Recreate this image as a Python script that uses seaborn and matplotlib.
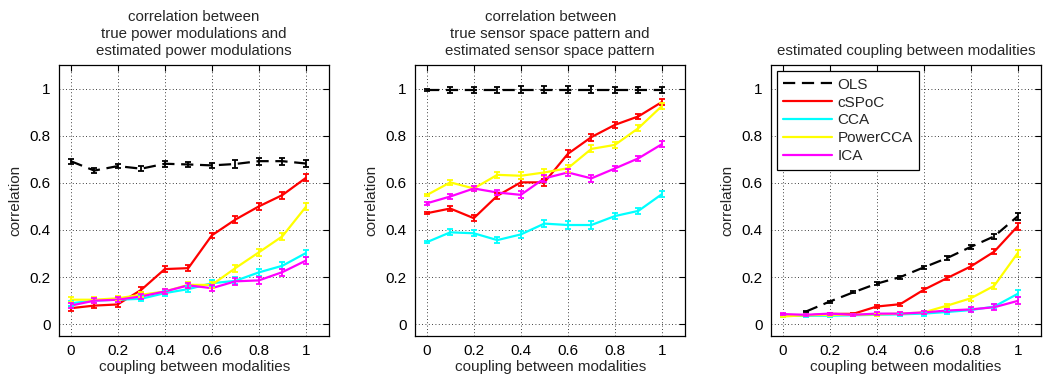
import numpy as np
import pandas as pd
import matplotlib
matplotlib.use('Agg')
import matplotlib.pyplot as plt
import seaborn as sns

# coupling strengths (x axis)
coupling = [0.0, 0.1, 0.2, 0.3, 0.4, 0.5, 0.6, 0.7, 0.8, 0.9, 1.0]
methods = ['OLS', 'cSPoC', 'CCA', 'PowerCCA', 'ICA']

# panel 1: correlation of power modulations
p1_ols = [0.692, 0.652, 0.671, 0.660, 0.681, 0.678, 0.674, 0.680, 0.692, 0.692, 0.682]
p1_cspoc = [0.068, 0.079, 0.084, 0.146, 0.234, 0.238, 0.377, 0.444, 0.500, 0.548, 0.621]
p1_cca = [0.089, 0.100, 0.104, 0.108, 0.132, 0.149, 0.174, 0.184, 0.220, 0.248, 0.302]
p1_powercca = [0.104, 0.104, 0.110, 0.125, 0.139, 0.167, 0.167, 0.238, 0.305, 0.373, 0.498]
p1_ica = [0.079, 0.100, 0.104, 0.118, 0.139, 0.165, 0.153, 0.182, 0.186, 0.221, 0.270]

# panel 2: correlation of sensor space patterns
p2_ols = [0.995, 0.995, 0.995, 0.995, 0.995, 0.995, 0.995, 0.995, 0.995, 0.995, 0.995]
p2_cspoc = [0.471, 0.491, 0.450, 0.545, 0.602, 0.602, 0.723, 0.794, 0.846, 0.882, 0.943]
p2_cca = [0.348, 0.390, 0.386, 0.357, 0.381, 0.427, 0.421, 0.421, 0.459, 0.481, 0.552]
p2_powercca = [0.548, 0.602, 0.576, 0.634, 0.630, 0.644, 0.662, 0.744, 0.761, 0.832, 0.926]
p2_ica = [0.513, 0.542, 0.576, 0.559, 0.549, 0.619, 0.644, 0.619, 0.661, 0.704, 0.764]

# panel 3: estimated coupling
p3_ols = [np.nan, 0.054, 0.096, 0.135, 0.172, 0.200, 0.241, 0.281, 0.328, 0.373, 0.458]
p3_cspoc = [0.040, 0.037, 0.044, 0.044, 0.075, 0.085, 0.146, 0.196, 0.245, 0.308, 0.416]
p3_cca = [0.035, 0.036, 0.036, 0.038, 0.040, 0.042, 0.045, 0.052, 0.060, 0.075, 0.129]
p3_powercca = [0.033, 0.038, 0.040, 0.040, 0.042, 0.045, 0.050, 0.079, 0.110, 0.163, 0.302]
p3_ica = [0.043, 0.040, 0.045, 0.040, 0.045, 0.045, 0.050, 0.058, 0.063, 0.072, 0.099]

# standard errors (roughly the same size everywhere)
err_p1 = [0.010, 0.012, 0.010, 0.010, 0.012, 0.012, 0.012, 0.015, 0.015, 0.015, 0.015]
err_p2 = [0.005, 0.012, 0.012, 0.012, 0.015, 0.015, 0.015, 0.015, 0.012, 0.012, 0.012]
err_p3 = [0.004, 0.004, 0.004, 0.004, 0.006, 0.006, 0.008, 0.008, 0.010, 0.012, 0.015]

titles = ['correlation between\ntrue power modulations and\nestimated power modulations',
          'correlation between\ntrue sensor space pattern and\nestimated sensor space pattern',
          'estimated coupling between modalities']
yticks = [0, 0.2, 0.4, 0.6, 0.8, 1]
ytick_labels = ['0', '0.2', '0.4', '0.6', '0.8', '1']
xticks = [0, 0.2, 0.4, 0.6, 0.8, 1]
xtick_labels = ['0', '0.2', '0.4', '0.6', '0.8', '1']

colors = {'OLS': 'black', 'cSPoC': '#ff0000', 'CCA': '#00ffff',
          'PowerCCA': '#ffff00', 'ICA': '#ff00ff'}
dashes = {'OLS': (5.5, 3), 'cSPoC': '', 'CCA': '', 'PowerCCA': '', 'ICA': ''}

panels = [
    ([p1_ols, p1_cspoc, p1_cca, p1_powercca, p1_ica], err_p1),
    ([p2_ols, p2_cspoc, p2_cca, p2_powercca, p2_ica], err_p2),
    ([p3_ols, p3_cspoc, p3_cca, p3_powercca, p3_ica], err_p3),
]

sns.set_style('white')
plt.rcParams['font.family'] = ['Liberation Sans', 'DejaVu Sans']

fig = plt.figure(figsize=(10.49, 3.82), dpi=100)
lefts = [0.0562, 0.3956, 0.7348]

for i, (series, err) in enumerate(panels):
    ax = fig.add_axes([lefts[i], 0.1204, 0.2578, 0.7094])
    rows = []
    for m, vals in zip(methods, series):
        for x, v in zip(coupling, vals):
            rows.append({'coupling': x, 'correlation': v, 'method': m})
    df = pd.DataFrame(rows)
    sns.lineplot(data=df, x='coupling', y='correlation', hue='method', style='method',
                 palette=colors, dashes=dashes, hue_order=methods, style_order=methods,
                 linewidth=1.6, ax=ax, legend=(i == 2))
    for m, vals in zip(methods, series):
        ax.errorbar(coupling, vals, yerr=err, fmt='none', ecolor=colors[m],
                    elinewidth=1.3, capsize=2.4, capthick=1.3)

    ax.set_xlim(-0.05, 1.1)
    ax.set_ylim(-0.05, 1.1)
    ax.set_xticks(xticks)
    ax.set_xticklabels(xtick_labels)
    ax.set_yticks(yticks)
    ax.set_yticklabels(ytick_labels)
    ax.grid(True, linestyle=(0, (1, 3)), color='black', linewidth=0.6)
    ax.tick_params(direction='in', length=4, width=0.8, top=True, right=True,
                   labelsize=11, colors='black', pad=6)
    for s in ax.spines.values():
        s.set_visible(True)
        s.set_color('black')
        s.set_linewidth(0.9)
    ax.set_xlabel('coupling between modalities', fontsize=11, labelpad=1)
    ax.set_ylabel('correlation', fontsize=11, labelpad=5)
    ax.set_title(titles[i], fontsize=10.8, linespacing=1.3, pad=7)

    if i == 2:
        leg = ax.legend(loc='upper left', fontsize=11, handlelength=3.2,
                        fancybox=False, framealpha=1, edgecolor='black',
                        borderpad=0.42, labelspacing=0.26, handletextpad=0.35,
                        borderaxespad=0.4)
        leg.get_frame().set_linewidth(0.9)
        for line in leg.get_lines():
            line.set_linewidth(1.6)

fig.savefig('out.png', dpi=100)
